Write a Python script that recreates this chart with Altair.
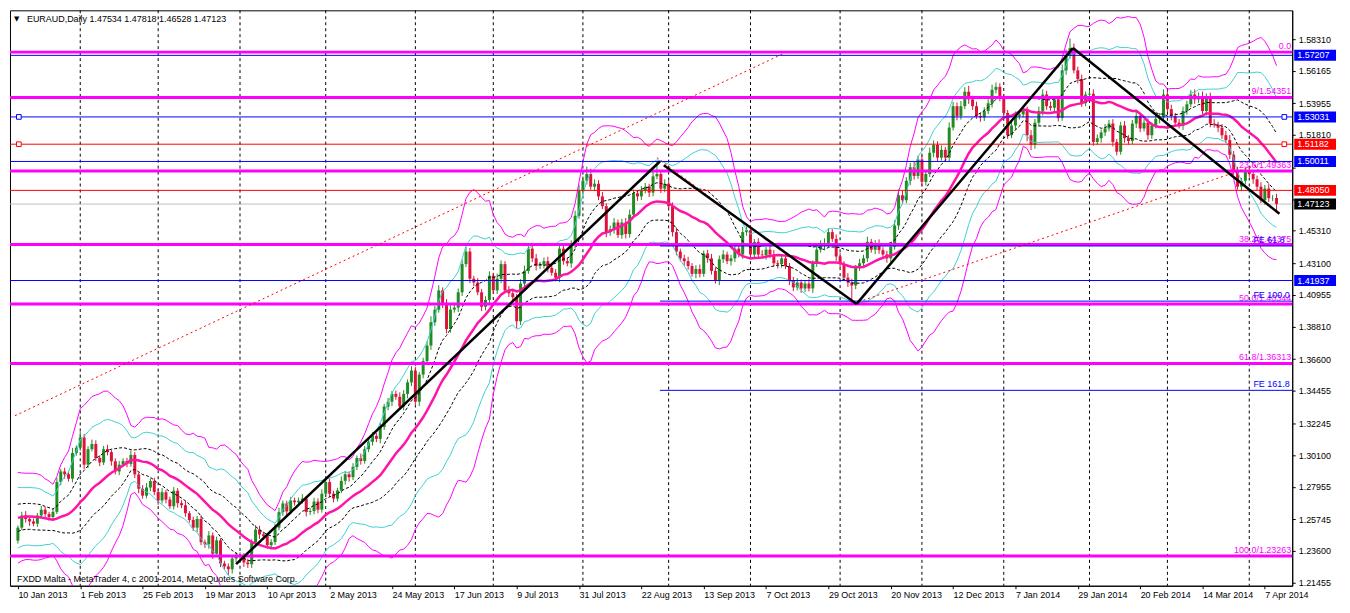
import json
import altair as alt
import pandas as pd

W, H = 1288, 578
FONT = "Liberation Sans"
FS = 9
GREEN, RED_C = "#228B22", "#DC143C"

# ---------------- data ----------------
symbol = "EURAUD,Daily"
last_bar_ohlc = [1.47534, 1.47818, 1.46528, 1.47123]

pre_close = [1.2440, 1.2470, 1.2510, 1.2560, 1.2590, 1.2640, 1.2700, 1.2730, 1.2690, 1.2720,
             1.2680, 1.2650, 1.2700, 1.2640, 1.2600, 1.2530, 1.2480, 1.2450, 1.2400, 1.2430]

close = [
    1.2518, 1.2600, 1.2577, 1.2560, 1.2545, 1.2600, 1.2640, 1.2610, 1.2590, 1.2625,
    1.2827, 1.2899, 1.2880, 1.2850, 1.3024, 1.3060, 1.3129, 1.2945, 1.3050, 1.3085,
    1.2990, 1.2960, 1.3050, 1.3030, 1.2968, 1.2899, 1.2945, 1.2970, 1.2950, 1.3011,
    1.2879, 1.2781, 1.2735, 1.2790, 1.2834, 1.2760, 1.2702, 1.2758, 1.2708, 1.2663,
    1.2768, 1.2684, 1.2670, 1.2616, 1.2570, 1.2518, 1.2577, 1.2419, 1.2405, 1.2465,
    1.2341, 1.2432, 1.2275, 1.2255, 1.2236, 1.2308, 1.2321, 1.2330, 1.2282, 1.2270,
    1.2419, 1.2505, 1.2472, 1.2460, 1.2399, 1.2420, 1.2518, 1.2623, 1.2682, 1.2628,
    1.2702, 1.2690, 1.2700, 1.2715, 1.2624, 1.2630, 1.2695, 1.2640, 1.2748, 1.2827,
    1.2748, 1.2715, 1.2770, 1.2835, 1.2880, 1.2860, 1.2930, 1.2990, 1.2970, 1.3050,
    1.3100, 1.3140, 1.3120, 1.3200, 1.3339, 1.3372, 1.3425, 1.3405, 1.3339, 1.3425,
    1.3503, 1.3583, 1.3372, 1.3556, 1.3648, 1.3753, 1.3911, 1.3996, 1.4127, 1.4042,
    1.3865, 1.3996, 1.4010, 1.4114, 1.4305, 1.4390, 1.4206, 1.4180, 1.4114, 1.4016,
    1.4062, 1.4226, 1.4127, 1.4206, 1.4305, 1.4127, 1.4107, 1.4081, 1.3917, 1.4173,
    1.4259, 1.4410, 1.4344, 1.4292, 1.4300, 1.4325, 1.4279, 1.4246, 1.4213, 1.4410,
    1.4325, 1.4310, 1.4436, 1.4633, 1.4804, 1.4870, 1.4916, 1.4830, 1.4850, 1.4764,
    1.4698, 1.4522, 1.4541, 1.4587, 1.4502, 1.4587, 1.4509, 1.4640, 1.4785, 1.4764,
    1.4804, 1.4830, 1.4790, 1.4900, 1.4916, 1.4817, 1.4850, 1.4698, 1.4522, 1.4390,
    1.4344, 1.4325, 1.4292, 1.4239, 1.4272, 1.4239, 1.4377, 1.4344, 1.4259, 1.4193,
    1.4338, 1.4370, 1.4325, 1.4344, 1.4410, 1.4370, 1.4522, 1.4535, 1.4370, 1.4456,
    1.4370, 1.4365, 1.4403, 1.4370, 1.4311, 1.4305, 1.4344, 1.4292, 1.4193, 1.4147,
    1.4180, 1.4140, 1.4173, 1.4140, 1.4311, 1.4403, 1.4436, 1.4445, 1.4522, 1.4476,
    1.4357, 1.4305, 1.4213, 1.4180, 1.4160, 1.4279, 1.4311, 1.4344, 1.4456, 1.4403,
    1.4443, 1.4400, 1.4370, 1.4344, 1.4423, 1.4567, 1.4772, 1.4738, 1.4870, 1.4962,
    1.4903, 1.5014, 1.4863, 1.4916, 1.5060, 1.5113, 1.5027, 1.5080, 1.5027, 1.5231,
    1.5376, 1.5310, 1.5376, 1.5474, 1.5422, 1.5376, 1.5310, 1.5300, 1.5343, 1.5396,
    1.5487, 1.5507, 1.5429, 1.5330, 1.5179, 1.5245, 1.5310, 1.5320, 1.5343, 1.5179,
    1.5113, 1.5264, 1.5343, 1.5455, 1.5376, 1.5365, 1.5422, 1.5297, 1.5619, 1.5724,
    1.5770, 1.5619, 1.5560, 1.5396, 1.5455, 1.5460, 1.5133, 1.5159, 1.5198, 1.5225,
    1.5258, 1.5133, 1.5067, 1.5245, 1.5159, 1.5140, 1.5258, 1.5310, 1.5225, 1.5264,
    1.5179, 1.5245, 1.5290, 1.5300, 1.5455, 1.5356, 1.5310, 1.5264, 1.5245, 1.5343,
    1.5389, 1.5455, 1.5422, 1.5445, 1.5343, 1.5442, 1.5258, 1.5250, 1.5230, 1.5179,
    1.5146, 1.5047, 1.4935, 1.4830, 1.4870, 1.4935, 1.4916, 1.4880, 1.4830, 1.4738,
    1.4817, 1.4752, 1.47534, 1.47123,
]

wick_up_pips = [
    15, 25, 30, 12, 20, 18, 25, 20, 15, 22, 30, 18, 25, 20, 35, 15, 40, 25, 20, 30,
    25, 18, 22, 30, 15, 20, 25, 18, 22, 30, 20, 15, 25, 30, 18, 22, 20, 28, 15, 20,
    25, 18, 20, 30, 15, 22, 20, 25, 18, 30, 20, 25, 15, 18, 20, 22, 30, 20, 15, 25,
    20, 30, 25, 18, 22, 20, 25, 30, 20, 18, 25, 20, 22, 30, 18, 20, 25, 22, 30, 20,
    25, 20, 18, 30, 22, 20, 25, 18, 30, 20, 22, 25, 20, 30, 18, 25, 20, 22, 30, 25,
    20, 30, 25, 18, 22, 30, 40, 25, 35, 20, 25, 30, 20, 25, 30, 35, 25, 20, 30, 22,
    25, 30, 20, 35, 25, 20, 30, 25, 20, 30, 35, 20, 25, 30, 20, 25, 30, 20, 25, 30,
    20, 25, 30, 35, 40, 30, 50, 35, 30, 25, 30, 20, 25, 30, 20, 25, 30, 35, 25, 20,
    30, 25, 20, 30, 84, 25, 30, 20, 25, 30, 20, 25, 30, 20, 25, 30, 20, 25, 30, 20,
    25, 30, 20, 25, 30, 20, 35, 25, 30, 20, 25, 30, 20, 25, 30, 20, 25, 30, 20, 25,
    30, 20, 25, 30, 20, 25, 30, 35, 25, 20, 30, 25, 20, 30, 25, 20, 30, 25, 35, 20,
    25, 30, 20, 25, 30, 35, 40, 30, 25, 30, 35, 25, 30, 20, 35, 30, 25, 30, 20, 35,
    30, 25, 35, 30, 40, 25, 30, 20, 25, 30, 35, 30, 25, 30, 20, 25, 30, 20, 25, 30,
    35, 25, 30, 35, 25, 30, 20, 25, 40, 35, 66, 30, 25, 30, 20, 25, 30, 25, 20, 30,
    25, 30, 20, 25, 30, 20, 25, 30, 20, 25, 30, 20, 25, 30, 35, 25, 30, 20, 25, 30,
    25, 30, 35, 25, 30, 20, 25, 30, 20, 25, 30, 35, 25, 30, 20, 25, 30, 20, 25, 30,
    25, 30, 20, 28,
]

wick_dn_pips = [
    20, 15, 25, 30, 18, 22, 15, 20, 25, 18, 15, 22, 30, 20, 25, 18, 20, 30, 22, 15,
    20, 25, 18, 22, 30, 20, 25, 15, 22, 18, 25, 30, 20, 18, 25, 22, 30, 20, 25, 18,
    22, 30, 20, 25, 18, 22, 30, 20, 25, 30, 35, 20, 25, 22, 40, 30, 25, 20, 30, 25,
    25, 20, 30, 22, 25, 30, 20, 18, 25, 30, 20, 22, 25, 18, 30, 20, 22, 25, 20, 18,
    22, 25, 20, 18, 25, 30, 20, 22, 25, 18, 20, 25, 22, 30, 20, 25, 30, 20, 22, 25,
    30, 25, 20, 30, 25, 20, 30, 25, 20, 35, 30, 25, 20, 30, 25, 20, 30, 25, 20, 30,
    25, 30, 20, 25, 30, 20, 25, 30, 45, 25, 30, 20, 25, 30, 20, 25, 30, 20, 25, 30,
    25, 20, 30, 25, 20, 30, 25, 20, 30, 25, 20, 35, 25, 30, 20, 25, 30, 25, 20, 30,
    25, 20, 30, 25, 20, 30, 25, 20, 30, 25, 20, 30, 25, 20, 30, 25, 20, 30, 25, 20,
    30, 25, 20, 30, 25, 20, 30, 25, 20, 30, 25, 20, 30, 25, 20, 30, 25, 20, 30, 25,
    20, 30, 25, 20, 30, 25, 20, 30, 25, 20, 30, 25, 20, 30, 118, 25, 20, 30, 25, 20,
    30, 25, 20, 30, 25, 20, 30, 25, 20, 30, 25, 20, 30, 25, 20, 30, 25, 20, 30, 25,
    20, 30, 25, 20, 30, 25, 20, 30, 25, 20, 30, 25, 20, 30, 25, 20, 30, 25, 20, 40,
    35, 25, 20, 30, 25, 20, 30, 25, 20, 30, 25, 20, 30, 25, 20, 30, 25, 20, 30, 25,
    20, 30, 25, 20, 30, 25, 20, 30, 25, 20, 30, 25, 20, 30, 25, 20, 30, 25, 20, 30,
    25, 20, 30, 25, 20, 30, 25, 20, 30, 25, 20, 30, 25, 20, 30, 25, 20, 30, 25, 20,
    30, 25, 20, 60,
]

date_labels = ["10 Jan 2013", "1 Feb 2013", "25 Feb 2013", "19 Mar 2013", "10 Apr 2013",
               "2 May 2013", "24 May 2013", "17 Jun 2013", "9 Jul 2013", "31 Jul 2013",
               "22 Aug 2013", "13 Sep 2013", "7 Oct 2013", "29 Oct 2013", "20 Nov 2013",
               "12 Dec 2013", "7 Jan 2014", "29 Jan 2014", "20 Feb 2014", "14 Mar 2014",
               "7 Apr 2014"]
bars_per_label = 16
month_start_bars = [16, 36, 57, 79, 102, 122, 145, 167, 188, 211, 232, 253, 275, 295, 316]

y_ticks = [1.21455, 1.23600, 1.25745, 1.27955, 1.30100, 1.32245, 1.34455, 1.36600, 1.38810,
           1.40955, 1.43100, 1.45310, 1.47455, 1.49600, 1.51810, 1.53955, 1.56165, 1.58310]
# tick labels that sit underneath the coloured price tags in the reference
covered_ticks = [1.47455, 1.49600]

fib_levels = [1.57425, 1.54351, 1.49363, 1.44375, 1.40344, 1.36313, 1.23263]
fib_labels = ["0.0", "9/1.54351", "23.6/1.49363", "38.2/1.44375", "50.0/1.40344",
              "61.8/1.36313", "100.0/1.23263"]

blue_levels = [1.57207, 1.53031, 1.50011, 1.41937]
red_levels = [1.51182, 1.48050]

fe_levels = [1.4428, 1.4054, 1.3449]
fe_labels = ["FE 61.8", "FE 100.0", "FE 161.8"]
fe_start_bar = 164.75

anchor_bars = [0.25, 325.0]
blue_anchor_level = 1.53031
red_anchor_level = 1.51182

zig_x0 = [56.0, 165.75, 215.25, 270.75]
zig_p0 = [1.2270, 1.4975, 1.4035, 1.5770]
zig_x1 = [164.75, 215.25, 270.75, 323.75]
zig_p1 = [1.5001, 1.4035, 1.5770, 1.4646]

tl_x0 = [-0.75, 164.0, 215.75]
tl_p0 = [1.3277, 1.5027, 1.4049]
tl_x1 = [196.5, 192.25, 321.5]
tl_p1 = [1.5733, 1.4469, 1.5011]

copyright_text = "FXDD Malta - MetaTrader 4, c 2001-2014, MetaQuotes Software Corp."

assert len(close) == len(wick_up_pips) == len(wick_dn_pips) == 324

# ---------------- tables ----------------
pip = 0.0001
opens = [pre_close[-1]] + close[:-1]
rows = []
for i, (o, c, u, d) in enumerate(zip(opens, close, wick_up_pips, wick_dn_pips)):
    rows.append(dict(i=i, open=o, close=c, high=max(o, c) + u * pip,
                     low=min(o, c) - d * pip, dir="up" if c >= o else "down"))
rows[-1]["open"], rows[-1]["high"], rows[-1]["low"], rows[-1]["close"] = last_bar_ohlc
bars = pd.DataFrame(rows)

allc = pd.Series(pre_close + close)
ma = allc.rolling(20).mean()
sd = allc.rolling(20).std(ddof=0)
n0 = len(pre_close)
bars["ma"] = ma.values[n0:]
for name, m in (("b1", 0.9), ("b2", 2.0), ("b3", 3.0)):
    bars[name + "u"] = (ma + m * sd).values[n0:]
    bars[name + "d"] = (ma - m * sd).values[n0:]

xs = alt.Scale(domain=[-0.75, 325.75], nice=False, zero=False)
ys = alt.Scale(domain=[1.2124, 1.6026], nice=False, zero=False)

label_expr = json.dumps(date_labels) + f"[round(datum.value / {bars_per_label})]"
hide_cond = " || ".join(f"abs(datum.value - {v}) < 0.000001" for v in covered_ticks)
ylabel_expr = f"({hide_cond}) ? '' : format(datum.value, '.5f')"

xaxis = alt.Axis(values=list(range(0, bars_per_label * len(date_labels), bars_per_label)),
                 labelExpr=label_expr, labelAlign="left", labelBaseline="top", labelPadding=2,
                 tickSize=3, grid=False, title=None, labelFont=FONT, labelFontSize=FS,
                 labelColor="black", tickColor="black", domainColor="black",
                 labelOverlap=False, labelFlush=False)
yaxis = alt.Axis(orient="right", values=y_ticks, labelExpr=ylabel_expr, tickSize=3,
                 labelPadding=3, grid=False, title=None, labelFont=FONT, labelFontSize=FS,
                 labelColor="black", tickColor="black", domainColor="black",
                 labelOverlap=False, labelFlush=False)


def X(f):
    return alt.X(f, scale=xs, axis=xaxis)


def Y(f):
    return alt.Y(f, scale=ys, axis=yaxis)


candle_color = alt.Color("dir:N", scale=alt.Scale(domain=["up", "down"], range=[GREEN, RED_C]),
                         legend=None)

# ---------------- layers ----------------
grid = alt.Chart(pd.DataFrame({"m": month_start_bars})).mark_rule(
    color="black", strokeDash=[3, 3], strokeWidth=1).encode(x=X("m:Q"))

bid = alt.Chart(pd.DataFrame({"p": [last_bar_ohlc[3]]})).mark_rule(
    color="#C0C0C0", strokeWidth=1).encode(y=Y("p:Q"))

wicks = alt.Chart(bars).mark_rule(strokeWidth=1).encode(
    x=X("i:Q"), y=Y("low:Q"), y2="high:Q", color=candle_color)

bodies = alt.Chart(bars).mark_bar(size=3).encode(
    x=X("i:Q"), y=Y("open:Q"), y2="close:Q", color=candle_color)


def band(field, color, width=1.0, dash=None):
    kw = dict(color=color, strokeWidth=width, clip=True)
    if dash:
        kw["strokeDash"] = dash
    return alt.Chart(bars).mark_line(**kw).encode(x=X("i:Q"), y=Y(field + ":Q"))


bands = [
    band("b3u", "#FF00FF"), band("b3d", "#FF00FF"),
    band("b2u", "#40D0D0"), band("b2d", "#40D0D0"),
    band("b1u", "black", 1, [3, 2]), band("b1d", "black", 1, [3, 2]),
    band("ma", "#FF14A8", 2.5),
]

fib_df = pd.DataFrame({"p": fib_levels, "t": fib_labels})
fib_lines = alt.Chart(fib_df).mark_rule(color="#FF00FF", strokeWidth=3).encode(y=Y("p:Q"))
fib_text = alt.Chart(fib_df).mark_text(
    align="right", baseline="bottom", dy=-1, color="#FF00FF", font=FONT, fontSize=FS
).encode(x=alt.value(W - 1), y=Y("p:Q"), text="t:N")

blue_lines = alt.Chart(pd.DataFrame({"p": blue_levels})).mark_rule(
    color="#0000FF", strokeWidth=1).encode(y=Y("p:Q"))
red_lines = alt.Chart(pd.DataFrame({"p": red_levels})).mark_rule(
    color="#FF0000", strokeWidth=1).encode(y=Y("p:Q"))

fe_df = pd.DataFrame({"p": fe_levels, "t": fe_labels, "x0": [fe_start_bar] * len(fe_levels)})
fe_lines = alt.Chart(fe_df).mark_rule(color="#0000FF", strokeWidth=1).encode(
    x=X("x0:Q"), x2=alt.value(W), y=Y("p:Q"))
fe_text = alt.Chart(fe_df).mark_text(
    align="left", baseline="bottom", dy=-1, color="#0000FF", font=FONT, fontSize=FS
).encode(x=alt.value(W - 39), y=Y("p:Q"), text="t:N")

tl_df = pd.DataFrame({"x0": tl_x0, "p0": tl_p0, "x1": tl_x1, "p1": tl_p1})
trend = alt.Chart(tl_df).mark_rule(color="#FF0000", strokeDash=[2, 3], strokeWidth=1,
                                   clip=True).encode(
    x=X("x0:Q"), x2="x1:Q", y=Y("p0:Q"), y2="p1:Q")

zz_df = pd.DataFrame({"x0": zig_x0, "p0": zig_p0, "x1": zig_x1, "p1": zig_p1})
zigzag = alt.Chart(zz_df).mark_rule(color="black", strokeWidth=2.5).encode(
    x=X("x0:Q"), x2="x1:Q", y=Y("p0:Q"), y2="p1:Q")

anch_b = alt.Chart(pd.DataFrame({"x": anchor_bars, "p": [blue_anchor_level] * 2})).mark_point(
    shape="square", size=22, filled=False, fill="white", fillOpacity=1, stroke="#0000FF",
    strokeWidth=1, opacity=1).encode(x=X("x:Q"), y=Y("p:Q"))
anch_r = alt.Chart(pd.DataFrame({"x": anchor_bars, "p": [red_anchor_level] * 2})).mark_point(
    shape="square", size=22, filled=False, fill="white", fillOpacity=1, stroke="#FF0000",
    strokeWidth=1, opacity=1).encode(x=X("x:Q"), y=Y("p:Q"))

header = "EURAUD,Daily  " + " ".join(f"{v:.5f}" for v in last_bar_ohlc)
head_tri = alt.Chart(pd.DataFrame({"t": ["▼"]})).mark_text(
    align="left", baseline="middle", font="DejaVu Sans", fontSize=7, color="black"
).encode(x=alt.value(4), y=alt.value(9), text="t:N")
head_txt = alt.Chart(pd.DataFrame({"t": [header]})).mark_text(
    align="left", baseline="middle", font=FONT, fontSize=FS, color="black"
).encode(x=alt.value(17), y=alt.value(9), text="t:N")
copy_txt = alt.Chart(pd.DataFrame({"t": [copyright_text]})).mark_text(
    align="left", baseline="middle", font=FONT, fontSize=FS, color="black"
).encode(x=alt.value(7), y=alt.value(H - 7), text="t:N")

tag_df = pd.DataFrame({
    "p": blue_levels + red_levels + [last_bar_ohlc[3]],
    "kind": ["blue"] * len(blue_levels) + ["red"] * len(red_levels) + ["bid"],
})
tags = alt.Chart(tag_df).mark_rule(strokeWidth=11).encode(
    x=alt.value(W + 2), x2=alt.value(W + 44), y=Y("p:Q"),
    color=alt.Color("kind:N", scale=alt.Scale(domain=["blue", "red", "bid"],
                                              range=["#0000FF", "#FF0000", "#000000"]),
                    legend=None))
tag_txt = alt.Chart(tag_df).mark_text(
    align="left", baseline="middle", font=FONT, fontSize=FS, color="white"
).encode(x=alt.value(W + 5), y=Y("p:Q"), text=alt.Text("p:Q", format=".5f"))

chart = alt.layer(
    grid, bid, wicks, bodies, *bands, fib_lines, blue_lines, red_lines, fe_lines,
    trend, zigzag, anch_b, anch_r, fib_text, fe_text, head_tri, head_txt, copy_txt,
    tags, tag_txt,
).resolve_scale(color="independent").properties(
    width=W, height=H, padding={"left": 0, "top": 0, "right": 0, "bottom": 0},
    background="white",
).configure_view(stroke="black", strokeWidth=1)

chart.save("out.html", embed_options={"renderer": "svg", "actions": False})
